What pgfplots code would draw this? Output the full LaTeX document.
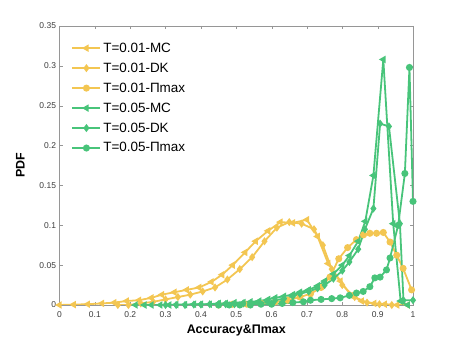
\documentclass[border=0pt]{standalone}
\usepackage{fontspec}
\setmainfont{Liberation Sans}
\usepackage{pgfplots}
\pgfplotsset{compat=1.18}
\definecolor{cyel}{RGB}{243,198,82}
\definecolor{cgrn}{RGB}{72,196,122}
\definecolor{axgray}{RGB}{150,150,150}
\definecolor{txgray}{RGB}{60,60,60}
\pgfplotsset{ser/.style={line width=1.8pt, mark size=2.6bp, mark options={solid}}}
\begin{document}
\begin{tikzpicture}
\useasboundingbox (-59.5bp,-38bp) rectangle (397.5bp,305bp);
\begin{axis}[
    scale only axis,
    width=353.5bp, height=279bp,
    xmin=0, xmax=1, ymin=0, ymax=0.35,
    xtick={0,0.1,...,1.01},
    ytick={0,0.05,...,0.36},
    tick align=inside,
    major tick length=3.5bp,
    axis line style={axgray, line width=0.8pt},
    tick style={axgray},
    /pgf/number format/assume math mode=true,
    /pgf/number format/fixed,
    /pgf/number format/precision=2,
    tick label style={font=\fontsize{8.5}{10}\selectfont, text=txgray},
    xticklabel style={yshift=-3.5bp},
    xlabel={\textbf{Accuracy\&Πmax}},
    ylabel={\textbf{PDF}},
    xlabel style={font=\fontsize{12.5}{14}\selectfont, yshift=0bp},
    ylabel style={font=\fontsize{12.5}{14}\selectfont, yshift=8bp},
    legend image code/.code={\draw[mark repeat=2,mark phase=2] plot coordinates {(0bp,0bp)(14bp,0bp)(28bp,0bp)};},
    legend cell align=left,
    legend style={at={(0.025,0.955)}, anchor=north west, draw=none, fill=none,
        font=\fontsize{13.5}{15}\selectfont, row sep=5.1bp},
]
% T=0.01-MC
\addplot[ser, cyel, mark=triangle*, mark options={rotate=90}] coordinates {
(0,0.0)(0.04,0.0005)(0.08,0.001)(0.12,0.002)(0.155,0.003)(0.19,0.005)
(0.225,0.006)(0.26,0.009)(0.29,0.013)(0.325,0.016)(0.36,0.019)(0.395,0.022)
(0.43,0.029)(0.46,0.038)(0.49,0.05)(0.525,0.066)(0.555,0.08)(0.59,0.093)
(0.625,0.104)(0.66,0.103)(0.70,0.107)(0.73,0.086)(0.76,0.052)(0.795,0.03)
(0.825,0.012)(0.855,0.005)(0.89,0.002)(0.92,0.001)(0.955,0.0)(0.985,0.0)
};
% T=0.01-DK
\addplot[ser, cyel, mark=diamond*] coordinates {
(0.165,0.0)(0.195,0.0)(0.23,0.002)(0.265,0.004)(0.30,0.007)(0.335,0.010)
(0.37,0.013)(0.405,0.017)(0.44,0.022)(0.475,0.032)(0.51,0.045)(0.545,0.06)
(0.58,0.08)(0.615,0.097)(0.65,0.104)(0.685,0.102)(0.72,0.095)(0.745,0.075)
(0.77,0.045)(0.80,0.025)(0.835,0.01)(0.87,0.003)(0.905,0.001)(0.94,0.0)
};
% T=0.01-Pimax
\addplot[ser, cyel, mark=*] coordinates {
(0.45,0.0)(0.49,0.001)(0.53,0.001)(0.57,0.002)(0.61,0.004)(0.645,0.006)
(0.68,0.010)(0.71,0.014)(0.74,0.022)(0.765,0.035)(0.79,0.058)(0.815,0.072)
(0.84,0.082)(0.86,0.088)(0.878,0.090)(0.897,0.090)(0.916,0.091)(0.935,0.079)
(0.954,0.0625)(0.972,0.046)(0.996,0.019)
};
% T=0.05-MC
\addplot[ser, cgrn, mark=triangle*, mark options={rotate=90}] coordinates {
(0.215,0.0)(0.24,0.0)(0.26,0.0)(0.285,0.0)(0.31,0.0)(0.33,0.0005)(0.355,0.0005)
(0.38,0.001)(0.40,0.001)(0.425,0.001)(0.45,0.002)(0.47,0.002)(0.495,0.003)
(0.52,0.003)(0.54,0.004)(0.565,0.005)(0.59,0.007)(0.61,0.009)(0.635,0.011)
(0.66,0.013)(0.68,0.016)(0.705,0.019)(0.73,0.024)(0.75,0.03)(0.775,0.039)
(0.80,0.05)(0.82,0.062)(0.845,0.08)(0.865,0.105)(0.888,0.1625)(0.916,0.308)
(0.944,0.102)(0.965,0.005)(0.985,0.0)
};
% T=0.05-DK
\addplot[ser, cgrn, mark=diamond*] coordinates {
(0.30,0.0)(0.33,0.0)(0.355,0.0)(0.38,0.0005)(0.40,0.0005)(0.425,0.001)
(0.45,0.001)(0.47,0.001)(0.495,0.001)(0.52,0.002)(0.54,0.002)(0.565,0.003)
(0.59,0.004)(0.61,0.006)(0.635,0.008)(0.66,0.011)(0.68,0.014)(0.705,0.017)
(0.73,0.021)(0.75,0.025)(0.775,0.033)(0.80,0.043)(0.82,0.054)(0.845,0.07)
(0.864,0.095)(0.888,0.121)(0.907,0.2275)(0.932,0.224)(0.963,0.102)
(0.973,0.006)(1.0,0.006)
};
% T=0.05-Pimax
\addplot[ser, cgrn, mark=*] coordinates {
(0.45,0.0)(0.48,0.0)(0.51,0.0)(0.54,0.0)(0.57,0.001)(0.60,0.001)(0.63,0.002)
(0.66,0.003)(0.69,0.004)(0.71,0.006)(0.74,0.007)(0.77,0.008)(0.794,0.009)
(0.82,0.012)(0.84,0.015)(0.859,0.017)(0.878,0.023)(0.892,0.034)(0.907,0.035)
(0.925,0.044)(0.935,0.059)(0.958,0.1)(0.977,0.165)(0.99,0.298)(1.0,0.13)
};
\legend{T=0.01-MC,T=0.01-DK,T=0.01-Πmax,T=0.05-MC,T=0.05-DK,T=0.05-Πmax}
\end{axis}
\end{tikzpicture}
\end{document}
